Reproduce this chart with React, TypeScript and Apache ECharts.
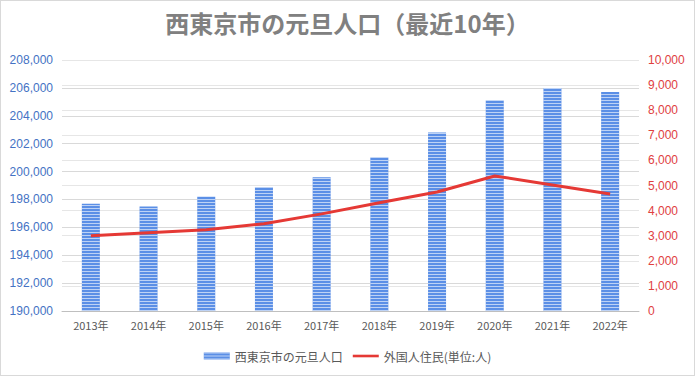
import React, { useEffect, useRef } from "react";
import * as echarts from "echarts";

const years = ["2013年", "2014年", "2015年", "2016年", "2017年", "2018年", "2019年", "2020年", "2021年", "2022年"];
const population = [197700, 197500, 198200, 198900, 199600, 201000, 202800, 205100, 206000, 205700];
const foreigners = [3000, 3120, 3240, 3480, 3870, 4310, 4740, 5380, 5020, 4660];

const title = "西東京市の元旦人口（最近10年）";
const seriesNames = ["西東京市の元旦人口", "外国人住民(単位:人)"];

export default function App() {
  const ref = useRef<HTMLDivElement>(null);
  useEffect(() => {
    if (!ref.current) return;
    const chart = echarts.init(ref.current, undefined, { renderer: "svg" });
    const font = "'Noto Sans CJK JP', 'Noto Sans', sans-serif";
    const numFont = "'Liberation Sans', Arial, sans-serif";
    chart.setOption({
      animation: false,
      backgroundColor: "#fff",
      textStyle: { fontFamily: font },
      title: {
        text: title,
        left: "center",
        top: 4,
        textStyle: { color: "#808080", fontSize: 24, fontWeight: "bold", fontFamily: font },
      },
      legend: {
        bottom: 8,
        left: "center",
        itemGap: 10,
        itemWidth: 26,
        itemHeight: 7,
        textStyle: { color: "#595959", fontSize: 12, fontFamily: font },
        data: [
          { name: seriesNames[0], icon: "rect" },
          { name: seriesNames[1], icon: "path://M0,0L30,0L30,3L0,3Z" },
        ],
      },
      grid: { left: 61, right: 55, top: 59, bottom: 64 },
      xAxis: {
        type: "category",
        data: years,
        axisLine: { lineStyle: { color: "#bfbfbf", width: 1 } },
        axisTick: { show: false },
        axisLabel: { color: "#595959", fontSize: 11, margin: 8 },
      },
      yAxis: [
        {
          type: "value",
          min: 190000,
          max: 208000,
          interval: 2000,
          axisLine: { show: false },
          axisTick: { show: false },
          axisLabel: {
            color: "#4472c4",
            fontSize: 12,
            fontFamily: numFont,
            margin: 9,
            formatter: (v: number) => v.toLocaleString("en-US"),
          },
          splitLine: { lineStyle: { color: "#d9d9d9", width: 1 } },
        },
        {
          type: "value",
          min: 0,
          max: 10000,
          interval: 1000,
          axisLine: { show: false },
          axisTick: { show: false },
          axisLabel: {
            color: "#e0403f",
            fontSize: 12,
            fontFamily: numFont,
            margin: 9,
            formatter: (v: number) => v.toLocaleString("en-US"),
          },
          splitLine: { lineStyle: { color: "#e6e6e6", width: 1 } },
        },
      ],
      series: [
        {
          name: seriesNames[0],
          type: "bar",
          data: population,
          yAxisIndex: 0,
          barWidth: 18,
          itemStyle: {
            color: "#5b8fe6",
            decal: {
              symbol: "rect",
              symbolSize: 1,
              dashArrayX: [1, 0],
              dashArrayY: [1, 2],
              rotation: 0,
              color: "rgba(255,255,255,0.6)",
            },
          },
        },
        {
          name: seriesNames[1],
          type: "line",
          data: foreigners,
          yAxisIndex: 1,
          symbol: "none",
          lineStyle: { color: "#e53935", width: 3 },
          itemStyle: { color: "#e53935" },
        },
      ],
    });
    return () => chart.dispose();
  }, []);
  return (
    <div
      ref={ref}
      style={{
        position: "absolute",
        left: 0,
        top: 0,
        width: 695,
        height: 376,
        boxSizing: "border-box",
        border: "1px solid #d9d9d9",
      }}
    />
  );
}
